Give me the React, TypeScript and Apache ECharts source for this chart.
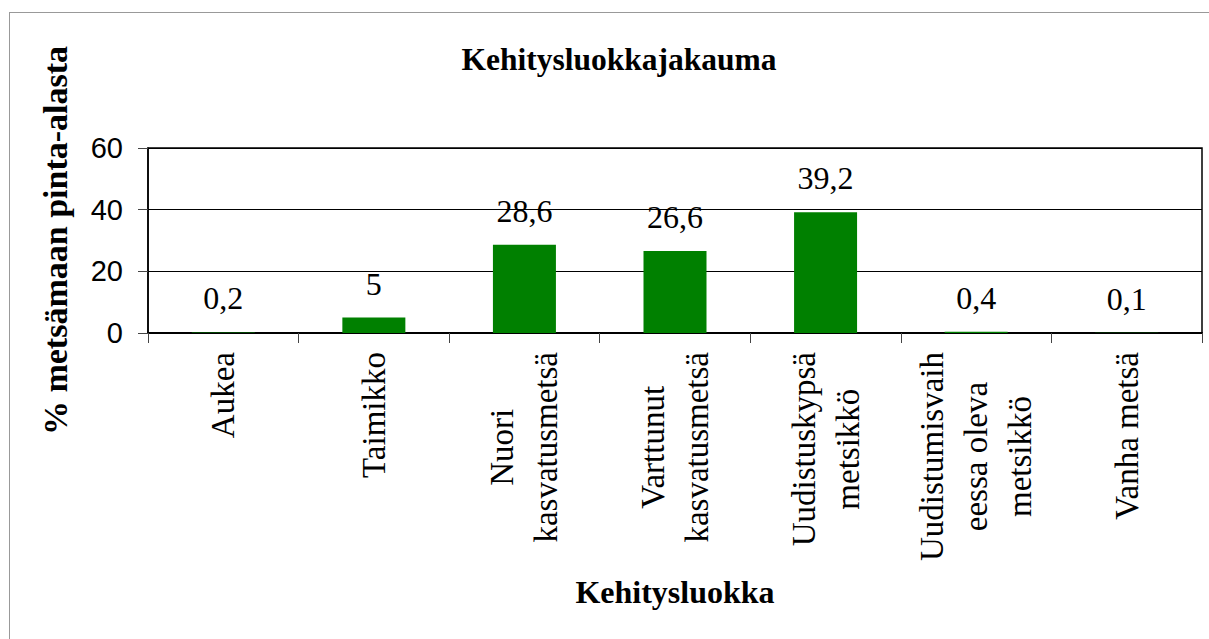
import React, { useEffect, useRef } from "react";
import * as echarts from "echarts";

const categories: string[] = [
  "Aukea",
  "Taimikko",
  "Nuori\nkasvatusmetsä",
  "Varttunut\nkasvatusmetsä",
  "Uudistuskypsä\nmetsikkö",
  "Uudistumisvaih\neessa oleva\nmetsikkö",
  "Vanha metsä",
];
const values: number[] = [0.2, 5, 28.6, 26.6, 39.2, 0.4, 0.1];
const yTicks = { min: 0, max: 60, interval: 20 };
const titleText = "Kehitysluokkajakauma";
const xName = "Kehitysluokka";
const yName = "% metsämaan pinta-alasta";

const SERIF = "Liberation Serif";
const SANS = "Liberation Sans";

export default function App() {
  const ref = useRef<HTMLDivElement>(null);
  useEffect(() => {
    if (!ref.current) return;
    const chart = echarts.init(ref.current, undefined, { renderer: "svg" });
    chart.setOption({
      animation: false,
      title: {
        text: titleText,
        left: 614,
        top: 38,
        textAlign: "center",
        textStyle: { fontFamily: SERIF, fontWeight: "bold", fontSize: 31.5, color: "#000" },
      },
      grid: {
        left: 148,
        right: 7,
        top: 148,
        bottom: 306,
        outerBoundsMode: "none",
        containLabel: false,
        show: true,
        borderColor: "#000",
        borderWidth: 1.5,
        backgroundColor: "transparent",
      },
      xAxis: {
        type: "category",
        data: categories,
        name: xName,
        nameLocation: "middle",
        nameGap: 243,
        nameTextStyle: { fontFamily: SERIF, fontWeight: "bold", fontSize: 32, color: "#000" },
        axisLine: { show: true, lineStyle: { color: "#000", width: 2 } },
        axisTick: { show: true, length: 10, lineStyle: { color: "#444", width: 1 } },
        axisLabel: {
          interval: 0,
          rotate: 90,
          margin: 19,
          fontFamily: SERIF,
          fontSize: 33,
          lineHeight: 44,
          color: "#000",
          formatter: (v: string) => v.split("\n").map((l) => `{c|${l}}`).join("\n"),
          rich: {
            c: {
              align: "center",
              fontFamily: SERIF,
              fontSize: 33,
              lineHeight: 44,
              color: "#000",
            },
          },
        },
      },
      yAxis: {
        type: "value",
        min: yTicks.min,
        max: yTicks.max,
        interval: yTicks.interval,
        name: yName,
        nameLocation: "middle",
        nameGap: 76,
        nameTextStyle: { fontFamily: SERIF, fontWeight: "bold", fontSize: 34, color: "#000" },
        axisLine: { show: true, lineStyle: { color: "#000", width: 1.5 } },
        axisTick: { show: true, length: 10, lineStyle: { color: "#444", width: 1 } },
        axisLabel: { margin: 25, fontFamily: SANS, fontSize: 29, color: "#000" },
        splitLine: { show: true, lineStyle: { color: "#000", width: 1 } },
      },
      series: [
        {
          type: "bar",
          data: values,
          barWidth: 63,
          itemStyle: { color: "#008000" },
          label: {
            show: true,
            position: "top",
            distance: 18,
            fontFamily: SERIF,
            fontSize: 32,
            color: "#000",
            formatter: (p: any) => String(p.value).replace(".", ","),
          },
        },
      ],
    });
    return () => chart.dispose();
  }, []);
  return (
    <div style={{ position: "absolute", left: 0, top: 0, width: 1209, height: 639, background: "#fff", overflow: "hidden" }}>
      <div
        style={{
          position: "absolute",
          left: 9,
          top: 12,
          width: 1400,
          height: 800,
          border: "1.5px solid #999",
          boxSizing: "border-box",
        }}
      />
      <div ref={ref} style={{ position: "absolute", left: 0, top: 0, width: 1209, height: 639 }} />
    </div>
  );
}
